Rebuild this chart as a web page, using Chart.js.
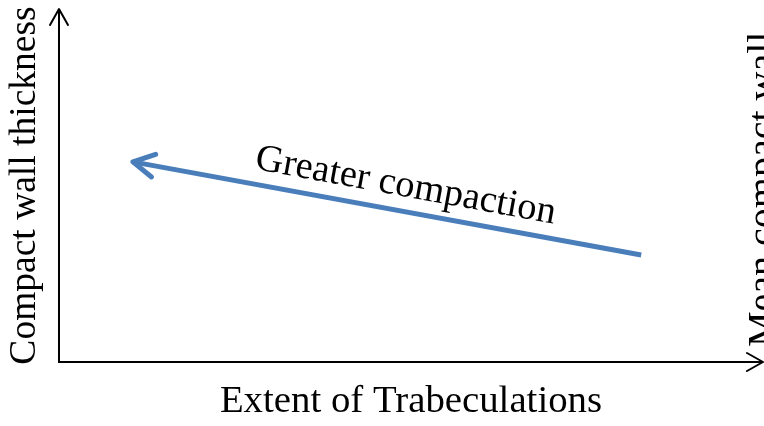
<!DOCTYPE html>
<html><head><meta charset="utf-8">
<script src="https://cdn.jsdelivr.net/npm/chart.js@4/dist/chart.umd.min.js"></script>
<style>html,body{margin:0;padding:0;background:#fff;overflow:hidden}#wrap{width:764px;height:426px;position:relative}</style>
</head><body><div id="wrap"><canvas id="c" width="764" height="426"></canvas></div>
<script>
// ---- data ----
const xAxisTitle = 'Extent of Trabeculations';
const yAxisTitle = 'Compact wall thickness';
const rightAxisTitle = 'Mean compact wall';
const arrowLabel = 'Greater compaction';
const xRange = [0, 100];
const yRange = [0, 100];
const arrowX = [82.7, 10.5];   // tail -> head
const arrowY = [30.3, 56.7];

const SERIF = '"Liberation Serif", "Times New Roman", serif';
const BLUE = '#4a7ebb';

const decor = {
  id: 'decor',
  afterDatasetsDraw(chart) {
    const ctx = chart.ctx;
    const pts = chart.getDatasetMeta(0).data;
    const tail = pts[0], head = pts[pts.length - 1];
    const dx = tail.x - head.x, dy = tail.y - head.y;
    const len = Math.hypot(dx, dy);
    const ux = dx / len, uy = dy / len;      // direction head -> tail
    const px = uy, py = -ux;                 // perpendicular (upwards)
    ctx.save();
    ctx.strokeStyle = BLUE; ctx.lineWidth = 5; ctx.lineCap = 'round'; ctx.lineJoin = 'round';
    const L = 21, W = 11.5;
    ctx.beginPath();
    ctx.moveTo(head.x + ux * L + px * W, head.y + uy * L + py * W);
    ctx.lineTo(head.x, head.y);
    ctx.lineTo(head.x + ux * L - px * W, head.y + uy * L - py * W);
    ctx.stroke();
    const t = 0.233, off = 15;
    const ax = head.x + dx * t + px * off, ay = head.y + dy * t + py * off;
    ctx.translate(ax, ay);
    ctx.rotate(Math.atan2(dy, dx));
    ctx.fillStyle = '#000';
    ctx.font = '38.5px ' + SERIF;
    ctx.textAlign = 'left'; ctx.textBaseline = 'alphabetic';
    ctx.fillText(arrowLabel, 0, 0);
    ctx.restore();
  },
  afterDraw(chart) {
    const { ctx, scales: { x, y } } = chart;
    const x0 = x.getPixelForValue(xRange[0]), x1 = x.getPixelForValue(xRange[1]);
    const y0 = y.getPixelForValue(yRange[0]), y1 = y.getPixelForValue(yRange[1]);
    ctx.save();
    ctx.strokeStyle = '#000'; ctx.lineWidth = 2; ctx.lineCap = 'butt'; ctx.lineJoin = 'miter';
    ctx.beginPath(); ctx.moveTo(x0, y1 + 1); ctx.lineTo(x0, y0); ctx.lineTo(x1 - 1, y0); ctx.stroke();
    ctx.lineJoin = 'round'; ctx.lineCap = 'round';
    ctx.beginPath(); ctx.moveTo(x0 - 9, y1 + 16); ctx.lineTo(x0, y1); ctx.lineTo(x0 + 9, y1 + 16); ctx.stroke();
    ctx.beginPath(); ctx.moveTo(x1 - 16, y0 - 9); ctx.lineTo(x1, y0); ctx.lineTo(x1 - 16, y0 + 9); ctx.stroke();
    ctx.translate(x1 + 12, y0 - 15);
    ctx.rotate(-Math.PI / 2);
    ctx.fillStyle = '#000';
    ctx.font = '40px ' + SERIF;
    ctx.textAlign = 'left'; ctx.textBaseline = 'alphabetic';
    ctx.fillText(rightAxisTitle, 0, 0);
    ctx.restore();
  }
};

new Chart(document.getElementById('c'), {
  type: 'line',
  data: {
    datasets: [{
      data: arrowX.map((v, i) => ({ x: v, y: arrowY[i] })),
      borderColor: BLUE,
      borderWidth: 5,
      borderCapStyle: 'butt',
      pointRadius: 0,
      pointHoverRadius: 0,
      fill: false,
      tension: 0
    }]
  },
  options: {
    responsive: false,
    animation: false,
    devicePixelRatio: 1,
    layout: { padding: { left: 6, right: 1, top: 9, bottom: 0 } },
    plugins: { legend: { display: false }, tooltip: { enabled: false } },
    events: [],
    scales: {
      x: {
        type: 'linear', min: xRange[0], max: xRange[1],
        grid: { display: false, drawTicks: false },
        border: { display: false },
        ticks: { display: false },
        title: { display: true, text: xAxisTitle, color: '#000',
          font: { family: SERIF, size: 38.8, lineHeight: 1 },
          padding: { top: 20, bottom: 5.2 } }
      },
      y: {
        type: 'linear', min: yRange[0], max: yRange[1],
        grid: { display: false, drawTicks: false },
        border: { display: false },
        ticks: { display: false },
        title: { display: true, text: yAxisTitle, color: '#000',
          font: { family: SERIF, size: 37.5, lineHeight: 1 },
          padding: { top: 0, bottom: 15.5 } }
      }
    }
  },
  plugins: [decor]
});
</script>
</body></html>
